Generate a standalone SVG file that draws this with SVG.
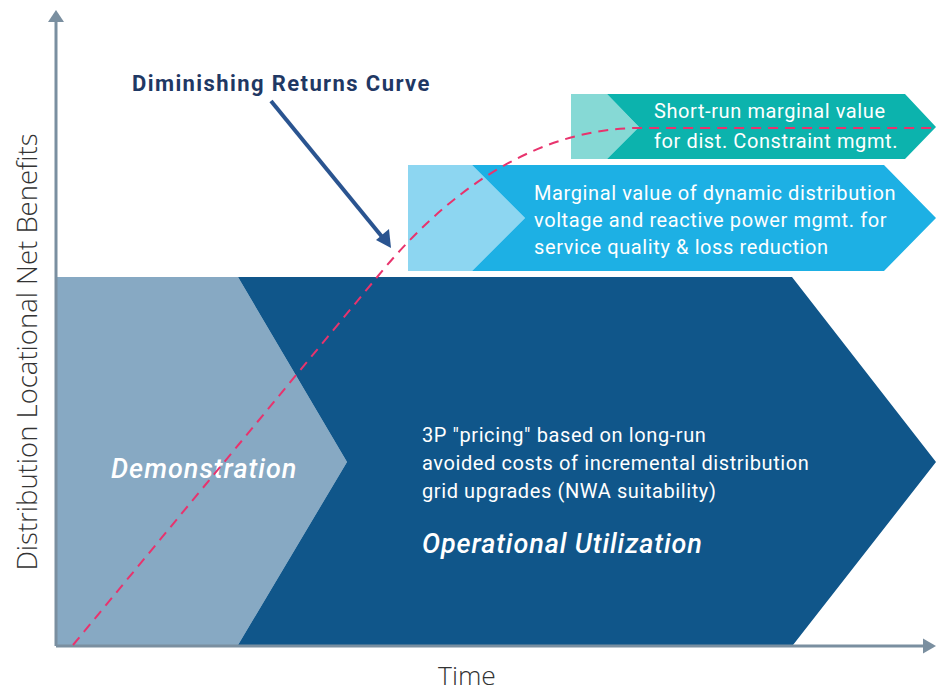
<svg xmlns="http://www.w3.org/2000/svg" width="948" height="692" viewBox="0 0 948 692">
  <defs>
    <style>
      .body { font-family: Roboto, "Liberation Sans", sans-serif; font-size: 20px; letter-spacing: 0.6px; fill: #ffffff; }
      .phase { font-family: Roboto, "Liberation Sans", sans-serif; font-size: 27px; font-weight: 500; font-style: italic; letter-spacing: 1px; fill: #ffffff; }
      .axis-label { font-family: "Open Sans", "Liberation Sans", sans-serif; font-size: 26.5px; font-weight: 300; fill: #333333; }
      .title { font-family: Roboto, "Liberation Sans", sans-serif; font-size: 22px; font-weight: 700; fill: #1f3864; letter-spacing: 1.4px; }
      .axis { stroke: #7a8fa0; stroke-width: 3; fill: none; }
    </style>
  </defs>
  <rect width="948" height="692" fill="#ffffff"/>

  <g id="demonstration">
    <polygon points="56,277 238,277 347,462 238,645 56,645" fill="#87a9c3"/>
    <text class="phase" x="111" y="478">Demonstration</text>
  </g>

  <g id="operational-utilization">
    <polygon points="238,277 792,277 936,462 793,645 238,645 347,462" fill="#10568a"/>
    <text class="body" x="422" y="442">3P "pricing" based on long-run</text>
    <text class="body" x="422" y="470">avoided costs of incremental distribution</text>
    <text class="body" x="422" y="498">grid upgrades (NWA suitability)</text>
    <text class="phase" x="422" y="553" style="letter-spacing:0.9px">Operational Utilization</text>
  </g>

  <g id="voltage-value">
    <polygon points="408,165 472,165 525,218 472,271 408,271" fill="#8dd6f1"/>
    <polygon points="472,165 884,165 936,218 884,271 472,271 525,218" fill="#1db0e4"/>
    <text class="body" x="534" y="200">Marginal value of dynamic distribution</text>
    <text class="body" x="534" y="227">voltage and reactive power mgmt. for</text>
    <text class="body" x="534" y="254">service quality &amp; loss reduction</text>
  </g>

  <g id="short-run-value">
    <polygon points="571,94 607,94 639,127 607,159 571,159" fill="#86d9d5"/>
    <polygon points="607,94 905,94 936,127 905,159 607,159 639,127" fill="#0cb3ad"/>
    <text class="body" x="654" y="118">Short-run marginal value</text>
    <text class="body" x="654" y="148">for dist. Constraint mgmt.</text>
  </g>

  <g id="axes">
    <line class="axis" x1="56" y1="20" x2="56" y2="646"/>
    <polygon points="56,10 48,22 64,22" fill="#7a8fa0"/>
    <line class="axis" x1="56" y1="646" x2="925" y2="646"/>
    <polygon points="936,646 923,638.5 923,653.5" fill="#7a8fa0"/>
    <text class="axis-label" transform="translate(37,352) rotate(-90)" text-anchor="middle" style="font-size:27.5px">Distribution Locational Net Benefits</text>
    <text class="axis-label" x="467" y="685" text-anchor="middle">Time</text>
  </g>

  <g id="diminishing-returns-label">
    <text class="title" x="132" y="91">Diminishing Returns Curve</text>
  </g>

  <g id="connectors">
    <path d="M73,645 L378,276 C468,166 560,128 640,128 L935,128" fill="none" stroke="#e8336d" stroke-width="2" stroke-dasharray="10,7"/>
    <line x1="271" y1="101" x2="383" y2="238" stroke="#2a5490" stroke-width="4"/>
    <polygon points="391,248 376,240 389,229" fill="#2a5490"/>
  </g>
</svg>
